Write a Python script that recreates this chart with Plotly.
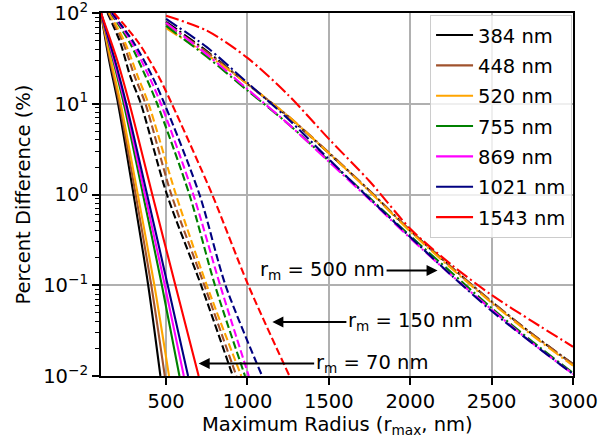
import math
import plotly.graph_objects as go

wavelength_labels = ["384 nm", "448 nm", "520 nm", "755 nm", "869 nm", "1021 nm", "1543 nm"]
line_colors = ["#000000", "#a0522d", "#ffa500", "#008000", "#ff00ff", "#000080", "#ff0000"]

# r_m = 70 nm (solid): r_max values where each curve reaches the y levels
rm70_y = [100, 30, 10, 1, 0.1, 0.01]
rm70_x = [
    [100, 150, 205, 300, 390, 465],
    [100, 156, 213, 313, 409, 492],
    [100, 161, 221, 326, 428, 518],
    [100, 175, 240, 358, 474, 582],
    [100, 180, 248, 370, 492, 609],
    [100, 186, 255, 383, 510, 635],
    [100, 200, 275, 415, 557, 700],
]

# r_m = 150 nm (dashed)
rm150_y = [100, 47, 20, 10, 1, 0.1, 0.01]
rm150_x = [
    [140, 219, 280, 345, 505, 715, 910],
    [146, 236, 307, 373, 532, 735, 932],
    [150, 248, 326, 392, 560, 750, 962],
    [160, 277, 374, 445, 643, 800, 985],
    [164, 290, 395, 468, 667, 832, 1008],
    [168, 302, 415, 490, 705, 865, 1090],
    [180, 331, 454, 535, 783, 1005, 1258],
]

# r_m = 500 nm (dash-dot): percent difference at r_max values
rm500_x = [500, 750, 1000, 1250, 1500, 1750, 2000, 2250, 2500, 2750, 3000]
rm500_y = [
    [80, 38, 16.5, 7.2, 2.85, 1.1, 0.40, 0.16, 0.066, 0.029, 0.0135],
    [76, 37, 16.5, 7.3, 2.9, 1.1, 0.40, 0.16, 0.066, 0.029, 0.0135],
    [68, 35, 16.5, 7.3, 2.85, 1.08, 0.39, 0.155, 0.064, 0.028, 0.013],
    [72, 33, 14, 6.0, 2.35, 0.92, 0.35, 0.14, 0.056, 0.024, 0.0108],
    [78, 35, 14.5, 6.0, 2.3, 0.88, 0.33, 0.13, 0.054, 0.023, 0.0105],
    [86, 42, 17, 6.8, 2.45, 0.9, 0.34, 0.13, 0.052, 0.023, 0.0105],
    [93, 64, 32, 12.5, 4.1, 1.4, 0.42, 0.17, 0.078, 0.040, 0.021],
]

x_ticks = [500, 1000, 1500, 2000, 2500, 3000]
y_ticks = [0.01, 0.1, 1, 10, 100]
y_ticktext = ["10<sup>−2</sup>", "10<sup>−1</sup>", "10<sup>0</sup>", "10<sup>1</sup>", "10<sup>2</sup>"]

# annotation labels: (arrow tip r_max, arrow tip value, text)
labels_rm = [
    (2168, 0.1456, "r<sub>m</sub> = 500 nm"),
    (1153, 0.0394, "r<sub>m</sub> = 150 nm"),
    (700, 0.01377, "r<sub>m</sub> = 70 nm"),
]
label_offsets = [-115, 138, 173]

FONT = "DejaVu Sans"
FS = 19.5

fig = go.Figure()

for i, lab in enumerate(wavelength_labels):
    fig.add_trace(go.Scatter(
        x=rm70_x[i], y=rm70_y, mode="lines", name=lab, legendgroup=lab,
        line=dict(color=line_colors[i], width=2.1, shape="spline", smoothing=0.8),
        showlegend=True))
for i, lab in enumerate(wavelength_labels):
    fig.add_trace(go.Scatter(
        x=rm150_x[i], y=rm150_y, mode="lines", name=lab, legendgroup=lab,
        line=dict(color=line_colors[i], width=2.1, dash="7.7px,3.3px", shape="spline", smoothing=0.8),
        showlegend=False))
for i, lab in enumerate(wavelength_labels):
    fig.add_trace(go.Scatter(
        x=rm500_x, y=rm500_y[i], mode="lines", name=lab, legendgroup=lab,
        line=dict(color=line_colors[i], width=2.1, dash="13px,3.3px,2.1px,3.3px", shape="spline", smoothing=0.8),
        showlegend=False))

minor_vals = [m * 10 ** e for e in range(-2, 2) for m in range(2, 10)]

fig.update_xaxes(
    range=[100, 3000], tickvals=x_ticks, ticktext=[str(v) for v in x_ticks],
    showgrid=True, gridcolor="#b0b0b0", gridwidth=1.5,
    showline=True, linecolor="black", linewidth=2, mirror=True,
    ticks="outside", ticklen=7, tickwidth=1.5, tickcolor="black",
    zeroline=False, automargin=False, ticklabeloverflow="allow",
    tickfont=dict(family=FONT, size=FS),
)
fig.update_yaxes(
    type="log", range=[-2, 2], tickvals=y_ticks, ticktext=y_ticktext,
    showgrid=True, gridcolor="#b0b0b0", gridwidth=1.5,
    showline=True, linecolor="black", linewidth=2, mirror=True,
    ticks="outside", ticklen=7, tickwidth=1.5, tickcolor="black",
    minor=dict(tickvals=minor_vals, ticks="outside", ticklen=4, tickwidth=1.2,
               tickcolor="black", showgrid=False),
    zeroline=False, automargin=False, ticklabeloverflow="allow",
    tickfont=dict(family=FONT, size=FS),
)

# axis titles
fig.add_annotation(text="Maximum Radius (r<sub>max</sub>, nm)", xref="paper", yref="paper",
                   x=0.5, y=-0.135, xanchor="center", yanchor="middle", showarrow=False,
                   font=dict(family=FONT, size=FS, color="black"))
fig.add_annotation(text="Percent Difference (%)", xref="paper", yref="paper",
                   x=-0.165, y=0.5, xanchor="center", yanchor="middle", showarrow=False,
                   textangle=-90, font=dict(family=FONT, size=FS, color="black"))

for (tx, ty, txt), off in zip(labels_rm, label_offsets):
    fig.add_annotation(x=tx, y=math.log10(ty), ax=off, ay=0, text=txt,
                       showarrow=True, arrowhead=2, arrowsize=1.1, arrowwidth=2,
                       arrowcolor="black", xref="x", yref="y",
                       font=dict(family=FONT, size=FS, color="black"))

fig.update_layout(
    width=600, height=442,
    margin=dict(l=101, r=27, t=13, b=66),
    plot_bgcolor="white", paper_bgcolor="white",
    font=dict(family=FONT, size=FS, color="black"),
    legend=dict(x=0.998, xanchor="right", y=0.995, yanchor="top",
                bgcolor="rgba(255,255,255,0.8)", bordercolor="#cccccc", borderwidth=1,
                font=dict(family=FONT, size=FS), tracegroupgap=2, itemwidth=37,
                maxheight=420),
)

fig.write_html("out.html", config={"displayModeBar": False},
               post_script="document.body.style.margin='0';")
